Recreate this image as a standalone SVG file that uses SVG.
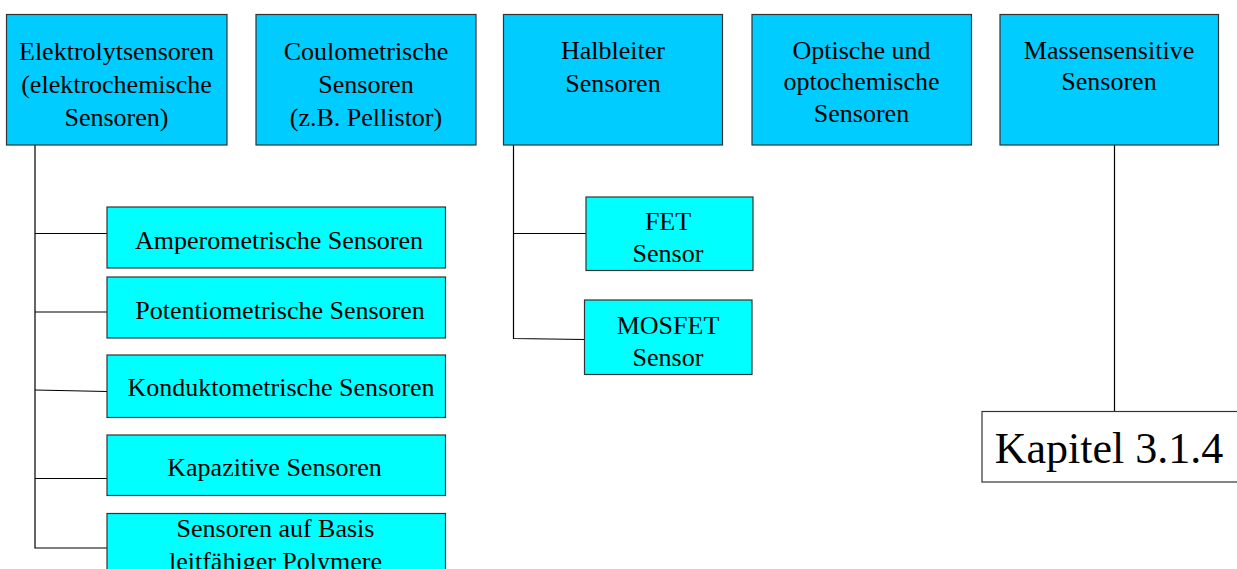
<svg xmlns="http://www.w3.org/2000/svg" width="1237" height="569" viewBox="0 0 1237 569">
<style>
  .top { fill: #00CCFF; stroke: #333333; stroke-width: 1.2; }
  .sub { fill: #00FFFF; stroke: #333333; stroke-width: 1.2; }
  .ref { fill: #FFFFFF; stroke: #333333; stroke-width: 1.2; }
  .t { font-family: "Liberation Serif", "Times New Roman", serif; font-size: 26px; fill: #000000; text-anchor: middle; }
  .big { font-family: "Liberation Serif", "Times New Roman", serif; font-size: 44px; fill: #000000; text-anchor: middle; }
  .c { fill: none; stroke: #000000; stroke-width: 1.2; }
</style>
<rect width="1237" height="569" fill="#FFFFFF"/>
<g id="connectors">
  <polyline class="c" points="35,145 35,548 107,548"/>
  <line class="c" x1="35" y1="233.5" x2="107" y2="233.5"/>
  <line class="c" x1="35" y1="312" x2="107" y2="312"/>
  <line class="c" x1="35" y1="390" x2="107" y2="391.5"/>
  <line class="c" x1="35" y1="478.5" x2="107" y2="478.5"/>
  <polyline class="c" points="513.5,145 513.5,338.5 585,339.5"/>
  <line class="c" x1="513.5" y1="233.5" x2="586" y2="233.5"/>
  <line class="c" x1="1114.5" y1="145" x2="1114.5" y2="411"/>
</g>
<g id="n-elektrolyt">
  <rect class="top" x="6.5" y="14.5" width="220.5" height="130.5"/>
  <text class="t" x="116.5" y="60">Elektrolytsensoren</text>
  <text class="t" x="116.5" y="93">(elektrochemische</text>
  <text class="t" x="116.5" y="126">Sensoren)</text>
</g>
<g id="n-coulometrisch">
  <rect class="top" x="256" y="14.5" width="220" height="130.5"/>
  <text class="t" x="366" y="59.5">Coulometrische</text>
  <text class="t" x="366" y="92.5">Sensoren</text>
  <text class="t" x="366" y="125.5">(z.B. Pellistor)</text>
</g>
<g id="n-halbleiter">
  <rect class="top" x="503.5" y="14.5" width="219" height="130.5"/>
  <text class="t" x="613" y="59">Halbleiter</text>
  <text class="t" x="613" y="91.5">Sensoren</text>
</g>
<g id="n-optisch">
  <rect class="top" x="752" y="14.5" width="219.5" height="130.5"/>
  <text class="t" x="861.5" y="58.5">Optische und</text>
  <text class="t" x="861.5" y="90">optochemische</text>
  <text class="t" x="861.5" y="122">Sensoren</text>
</g>
<g id="n-massensensitiv">
  <rect class="top" x="1000" y="14.5" width="218.5" height="130.5"/>
  <text class="t" x="1109" y="58.5">Massensensitive</text>
  <text class="t" x="1109" y="90">Sensoren</text>
</g>
<g id="n-amperometrisch">
  <rect class="sub" x="107" y="207" width="338.5" height="61"/>
  <text class="t" x="279" y="249">Amperometrische Sensoren</text>
</g>
<g id="n-potentiometrisch">
  <rect class="sub" x="107" y="277" width="338.5" height="61"/>
  <text class="t" x="280" y="318.5">Potentiometrische Sensoren</text>
</g>
<g id="n-konduktometrisch">
  <rect class="sub" x="107" y="355" width="338.5" height="62.5"/>
  <text class="t" x="281" y="395.5">Konduktometrische Sensoren</text>
</g>
<g id="n-kapazitiv">
  <rect class="sub" x="107" y="435" width="338.5" height="60.5"/>
  <text class="t" x="274.5" y="476">Kapazitive Sensoren</text>
</g>
<g id="n-polymere">
  <rect class="sub" x="107" y="513.5" width="338.5" height="70"/>
  <text class="t" x="275.5" y="536.5">Sensoren auf Basis</text>
  <text class="t" x="275.5" y="569.5">leitfähiger Polymere</text>
</g>
<g id="n-fet">
  <rect class="sub" x="586" y="197" width="167" height="73.5"/>
  <text class="t" x="668" y="229.5">FET</text>
  <text class="t" x="668" y="262">Sensor</text>
</g>
<g id="n-mosfet">
  <rect class="sub" x="584.5" y="300" width="167.5" height="74.5"/>
  <text class="t" x="668" y="333.5">MOSFET</text>
  <text class="t" x="668" y="365.5">Sensor</text>
</g>
<g id="n-kapitel">
  <rect class="ref" x="982" y="411.5" width="270" height="70.5"/>
  <text class="big" x="1109" y="463">Kapitel 3.1.4</text>
</g>
</svg>
